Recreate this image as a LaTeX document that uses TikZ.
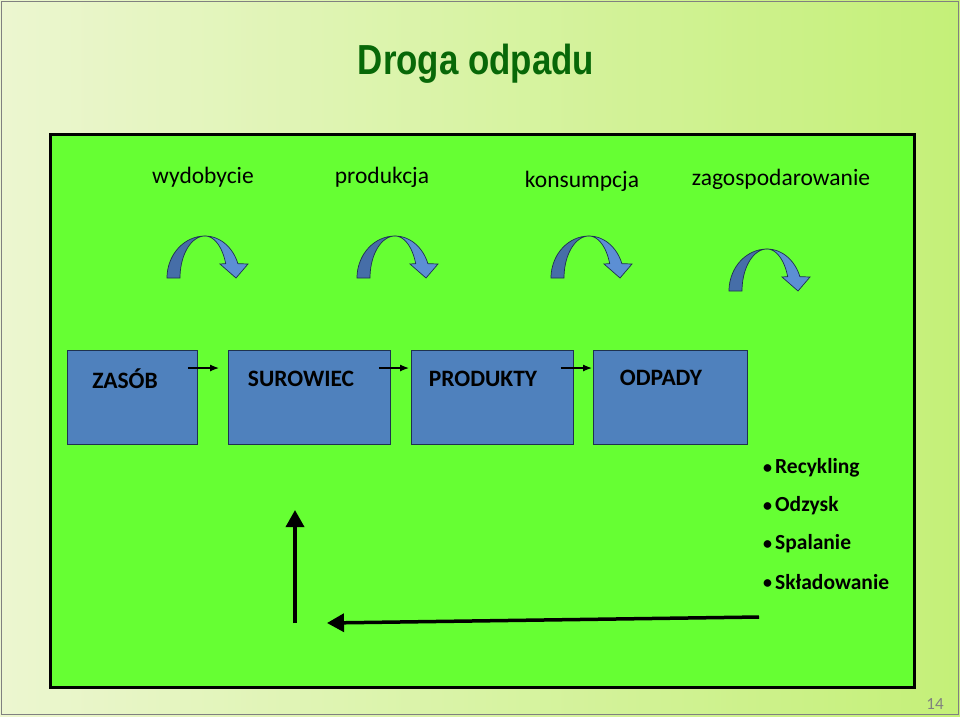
\documentclass[tikz,border=0pt]{standalone}
\usepackage{fontspec}
\setmainfont{Carlito}
\newfontfamily\titlefont{Liberation Sans}
\usetikzlibrary{arrows.meta,calc}
\definecolor{bgleft}{RGB}{236,246,208}
\definecolor{bgmid}{RGB}{247,252,234}
\definecolor{bgright}{RGB}{196,240,120}
\definecolor{panelgreen}{RGB}{102,255,51}
\definecolor{titlegreen}{RGB}{8,104,8}
\definecolor{boxblue}{RGB}{79,129,189}
\definecolor{arrowdark}{RGB}{70,110,168}
\definecolor{arrowlight}{RGB}{92,143,212}
\definecolor{arrowline}{RGB}{30,50,80}
\newcommand{\smbul}{{\fontsize{18}{18}\selectfont\raisebox{0.5pt}{•}}\kern3pt}
\tikzset{
  steplabel/.style={font=\fontsize{23.5}{26}\selectfont, text=black, inner sep=0pt},
  stagebox/.style={draw=arrowline, line width=0.8pt, fill=boxblue, minimum width=#1, minimum height=94pt, inner sep=0pt, anchor=north west},
  boxtext/.style={font=\fontsize{23.5}{26}\selectfont\bfseries, text=black, inner sep=0pt},
  bullettext/.style={font=\fontsize{21.5}{24}\selectfont\bfseries, text=black, inner sep=0pt, anchor=west},
  smallarrow/.style={line width=1.2pt, -{Latex[length=9pt,width=7pt]}},
  bigarrow/.style={line width=3.5pt, -{Triangle[length=17pt,width=18pt]}},
  curvarrow/.pic={
    \path[fill=arrowdark, draw=arrowline, line width=0.7pt]
      plot[domain=180:90, samples=24] ({38+38*cos(\x)},{-42*sin(\x)})
      -- plot[domain=90:180, samples=24] ({38+25*cos(\x)},{-42*sin(\x)}) -- cycle;
    \path[fill=arrowlight, draw=arrowline, line width=0.7pt]
      plot[domain=90:20, samples=24] ({38+35*cos(\x)},{-42*sin(\x)})
      -- (81,-14) -- (69,0) -- (53,-14)
      -- plot[domain=20:90, samples=24] ({38+22*cos(\x)},{-42*sin(\x)}) -- cycle;
  }
}
\begin{document}
\begin{tikzpicture}[x=1pt,y=-1pt]
\useasboundingbox (0,0) rectangle (960,716);
% background
\shade[left color=bgleft, middle color=bgmid, right color=bgright, shading angle=90] (0,0) rectangle (960,716);
\draw[gray, line width=1pt] (1,1) rectangle (958,714);
% title
\node[font=\titlefont\bfseries\fontsize{42}{46}\selectfont, text=titlegreen, xscale=0.83, inner sep=0pt] (title) at (476,64) {Droga odpadu};
% panel
\node[draw=black, line width=3pt, fill=panelgreen, minimum width=864pt, minimum height=553pt, anchor=north west, inner sep=0pt] (panel) at (49,133) {};
% step labels
\node[steplabel] (l1) at (203,177) {wydobycie};
\node[steplabel] (l2) at (382,177) {produkcja};
\node[steplabel] (l3) at (582,181) {konsumpcja};
\node[steplabel] (l4) at (781,179) {zagospodarowanie};
% curved arrows
\pic at (167,278) {curvarrow};
\pic at (357,278) {curvarrow};
\pic at (551,278) {curvarrow};
\pic at (729,291) {curvarrow};
% boxes
\node[stagebox=130pt] (zasob) at (67,350) {};
\node[stagebox=162pt] (surowiec) at (228,350) {};
\node[stagebox=162pt] (produkty) at (411,350) {};
\node[stagebox=154pt] (odpady) at (593,350) {};
\node[boxtext] (tz) at (125,379) {ZASÓB};
\node[boxtext] (ts) at (301,379) {SUROWIEC};
\node[boxtext] (tp) at (483,379) {PRODUKTY};
\node[boxtext] (to) at (661,378) {ODPADY};
% small arrows
\coordinate (a1s) at ($(zasob.north east)+(-10,18)$);
\coordinate (a2s) at ($(surowiec.north east)+(-12,18)$);
\coordinate (a3s) at ($(produkty.north east)+(-13,18)$);
\draw[smallarrow] (a1s) -- ($(surowiec.north west)+(-9,18)$) coordinate (a1e);
\draw[smallarrow] (a2s) -- ($(produkty.north west)+(-2,18)$) coordinate (a2e);
\draw[smallarrow] (a3s) -- ($(odpady.north west)+(-1,18)$) coordinate (a3e);
% bullet list
\node[bullettext] (b1) at (763,468) {\smbul Recykling};
\node[bullettext] (b2) at (763,506) {\smbul Odzysk};
\node[bullettext] (b3) at (763,544) {\smbul Spalanie};
\node[bullettext] (b4) at (763,582) {\smbul Składowanie};
% big arrows
\coordinate (vstart) at (295,623);
\coordinate (vend) at (295,510);
\coordinate (hstart) at (759,617);
\coordinate (hend) at (327,623);
\draw[bigarrow] (vstart) -- (vend);
\draw[bigarrow] (hstart) -- (hend);
% page number
\node[font=\fontsize{17}{19}\selectfont, text=gray, inner sep=0pt] (pagenum) at (935,704) {14};
\end{tikzpicture}
\end{document}
